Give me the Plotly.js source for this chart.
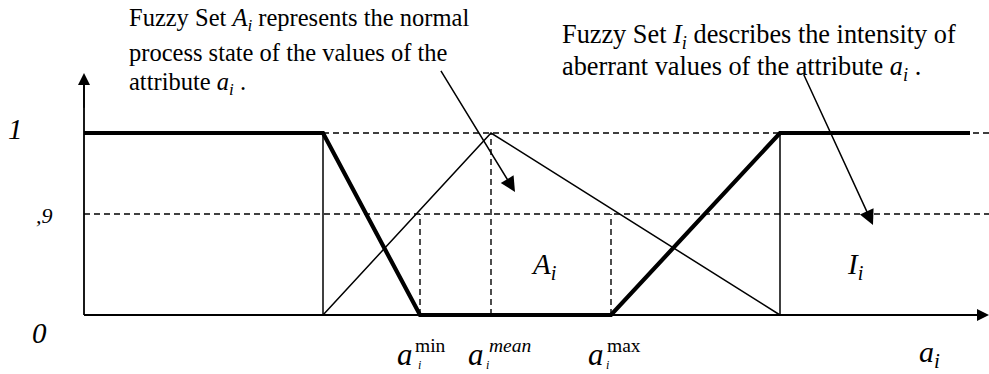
<!DOCTYPE html>
<html>
<head>
<meta charset="utf-8">
<script src="https://cdn.plot.ly/plotly-3.0.1.min.js"></script>
<style>html,body{margin:0;padding:0;background:#fff;}#chart{width:989px;height:374px;}</style>
</head>
<body>
<div id="chart"></div>
<script>
// ---- data ----
const alphaLevels = [0, 0.555, 1];
const alphaLabels = ['0', ',9', '1'];
const knotNames = ['origin', 'lower', 'min', 'mean', 'max', 'upper', 'end'];
const knotX = [0, 239, 336, 407, 527, 696, 886];
const setAx = [239, 407, 696];
const setAy = [0, 1, 0];
const setIx = [0, 239, 336, 527, 696, 886];
const setIy = [1, 1, 0, 0, 1, 1];
const axisEndX = 905;
const axisEndY = 1.33;
const pointerTails = [[356, 1.35], [719, 1.33]];
const pointerTips = [[431, 0.676], [789, 0.495]];
const bottomKnots = ['min', 'mean', 'max'];
const bottomSup = ['min', '<i>mean</i>', 'max'];

const K = {};
knotNames.forEach((n, i) => K[n] = knotX[i]);
const FONT = 'Liberation Serif, Times New Roman, serif';
const py = p => (315 - p) / 182; // pixel row -> value units for label placement

const traces = [];
// axes lines
traces.push({x: [0, axisEndX - 6], y: [0, 0], mode: 'lines', line: {color: '#000', width: 1.8}, hoverinfo: 'skip'});
traces.push({x: [0, 0], y: [0, axisEndY - 0.04], mode: 'lines', line: {color: '#000', width: 1.8}, hoverinfo: 'skip'});
// dashed guides
traces.push({
  x: [K.lower, axisEndX, null, 0, axisEndX, null, K.min, K.min, null, K.mean, K.mean, null, K.max, K.max],
  y: [alphaLevels[2], alphaLevels[2], null, alphaLevels[1], alphaLevels[1], null, 0, alphaLevels[1], null, 0, alphaLevels[2], null, 0, alphaLevels[1]],
  mode: 'lines', line: {color: '#000', width: 1.4, dash: '6px,4px'}, hoverinfo: 'skip'
});
// thin verticals
traces.push({
  x: [K.lower, K.lower, null, K.upper, K.upper],
  y: [0, 1, null, 0, 1],
  mode: 'lines', line: {color: '#000', width: 1.5}, hoverinfo: 'skip'
});
// fuzzy set A (thin triangle)
traces.push({x: setAx, y: setAy, mode: 'lines', line: {color: '#000', width: 1.5}, hoverinfo: 'skip'});
// fuzzy set I (thick)
traces.push({x: setIx, y: setIy, mode: 'lines', line: {color: '#000', width: 4.2}, hoverinfo: 'skip'});

const ann = [];
// axis arrowheads
ann.push({x: axisEndX, y: 0, ax: axisEndX - 40, ay: 0, xref: 'x', yref: 'y', axref: 'x', ayref: 'y', text: '', showarrow: true, arrowhead: 2, arrowsize: 1.6, arrowwidth: 1.5, arrowcolor: '#000'});
ann.push({x: 0, y: axisEndY, ax: 0, ay: axisEndY - 0.2, xref: 'x', yref: 'y', axref: 'x', ayref: 'y', text: '', showarrow: true, arrowhead: 2, arrowsize: 1.6, arrowwidth: 1.5, arrowcolor: '#000'});
// pointer arrows
for (let i = 0; i < pointerTips.length; i++) {
  ann.push({x: pointerTips[i][0], y: pointerTips[i][1], ax: pointerTails[i][0], ay: pointerTails[i][1], xref: 'x', yref: 'y', axref: 'x', ayref: 'y', text: '', showarrow: true, arrowhead: 2, arrowsize: 2, arrowwidth: 1.5, arrowcolor: '#000'});
}
// y level labels
const lvlX = [39, 44, 15];
const lvlShift = [-18, -2, 4];
const lvlSize = [29, 22, 29];
alphaLevels.forEach((v, i) => {
  ann.push({x: lvlX[i] / 989, y: v, xref: 'paper', yref: 'y', text: '<i>' + alphaLabels[i] + '</i>', showarrow: false, xanchor: 'center', yanchor: 'middle', yshift: lvlShift[i], font: {family: FONT, size: lvlSize[i], color: '#000'}});
});
// description text blocks
const leftLines = ['Fuzzy Set <i>A<sub>i</sub></i> represents the normal', 'process state of the values of the', 'attribute <i>a<sub>i</sub></i> .'];
const leftY = [20, 52, 83];
leftLines.forEach((t, i) => ann.push({x: 127 / 989, y: 1 - leftY[i] / 374, xref: 'paper', yref: 'paper', text: t, showarrow: false, xanchor: 'left', yanchor: 'middle', font: {family: FONT, size: 24.5, color: '#000'}}));
const rightLines = ['Fuzzy Set <i>I<sub>i</sub></i> describes the intensity of', 'aberrant values of the attribute <i>a<sub>i</sub></i> .'];
const rightY = [37, 68];
rightLines.forEach((t, i) => ann.push({x: 560 / 989, y: 1 - rightY[i] / 374, xref: 'paper', yref: 'paper', text: t, showarrow: false, xanchor: 'left', yanchor: 'middle', font: {family: FONT, size: 26.3, color: '#000'}}));
// set labels inside
ann.push({x: (K.mean + K.max) / 2, y: 0.27, xref: 'x', yref: 'y', text: '<i>A<sub>i</sub></i>', showarrow: false, xshift: -7, font: {family: FONT, size: 29, color: '#000'}});
ann.push({x: (K.upper + K.end) / 2, y: 0.27, xref: 'x', yref: 'y', text: '<i>I<sub>i</sub></i>', showarrow: false, xshift: -20, font: {family: FONT, size: 29, color: '#000'}});
// bottom knot labels
const supShift = [-7, -4, -6];
const subShift = [-1, -4, -4];
bottomKnots.forEach((k, i) => {
  ann.push({x: K[k], y: py(354), xref: 'x', yref: 'y', text: '<i>a</i>', showarrow: false, xanchor: 'center', yanchor: 'middle', xshift: -15.5, font: {family: FONT, size: 31, color: '#000'}});
  ann.push({x: K[k], y: py(345), xref: 'x', yref: 'y', text: bottomSup[i], showarrow: false, xanchor: 'left', yanchor: 'middle', xshift: supShift[i], font: {family: FONT, size: 19.5, color: '#000'}});
  ann.push({x: K[k], y: py(365), xref: 'x', yref: 'y', text: '<i>i</i>', showarrow: false, xanchor: 'center', yanchor: 'middle', xshift: subShift[i], font: {family: FONT, size: 12, color: '#000'}});
});
ann.push({x: axisEndX - 60, y: py(354), xref: 'x', yref: 'y', text: '<i>a<sub>i</sub></i>', showarrow: false, xshift: 0, font: {family: FONT, size: 30, color: '#000'}});

const layout = {
  width: 989, height: 374,
  margin: {l: 0, r: 0, t: 0, b: 0},
  paper_bgcolor: '#fff', plot_bgcolor: '#fff',
  showlegend: false,
  xaxis: {range: [-84, 905], visible: false, fixedrange: true},
  yaxis: {range: [-0.3242, 1.7308], visible: false, fixedrange: true},
  annotations: ann
};
Plotly.newPlot('chart', traces, layout, {displayModeBar: false, staticPlot: true});
</script>
</body>
</html>
